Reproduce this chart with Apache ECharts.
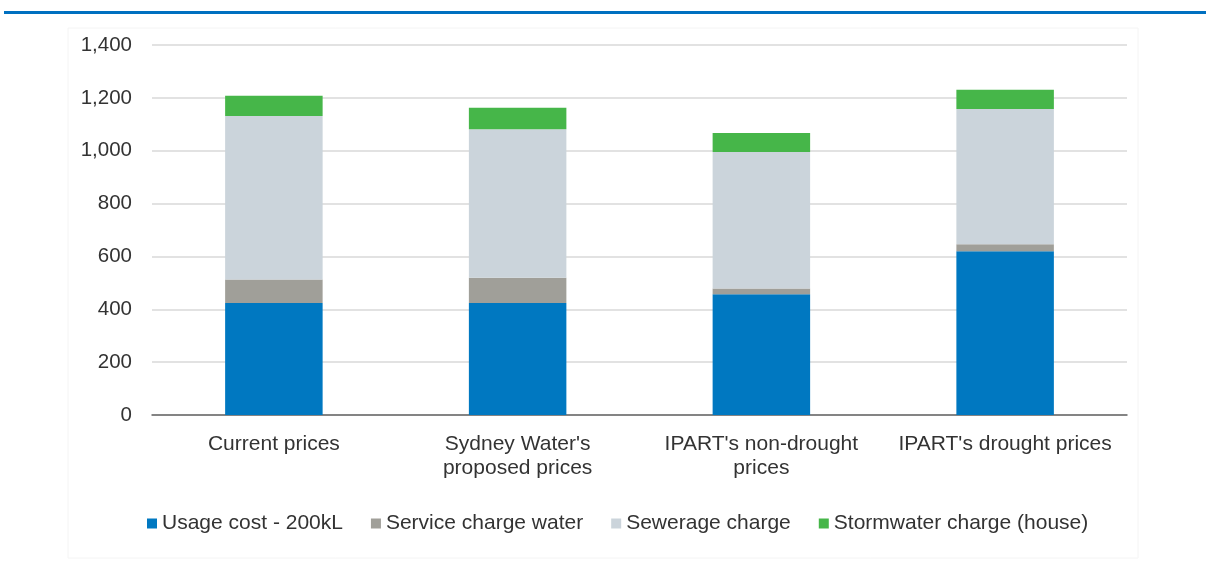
<!DOCTYPE html>
<html><head><meta charset="utf-8">
<script src="https://cdn.jsdelivr.net/npm/echarts@6/dist/echarts.min.js"></script>
<style>html,body{margin:0;padding:0;background:#fff}#c{width:1206px;height:566px}</style>
</head><body><div id="c"></div>
<script>
const categories = ["Current prices", "Sydney Water's\nproposed prices", "IPART's non-drought\nprices", "IPART's drought prices"];
const usageCost = [424, 424, 457, 620];
const serviceCharge = [89, 95, 22, 26];
const sewerageCharge = [618, 562, 516, 512];
const stormwaterCharge = [77, 82, 72, 73];
const seriesNames = ["Usage cost - 200kL", "Service charge water", "Sewerage charge", "Stormwater charge (house)"];
const colors = ["#0078C1", "#A09F99", "#CBD4DB", "#46B649"];
const datasets = [usageCost, serviceCharge, sewerageCharge, stormwaterCharge];

const FONT = 'Liberation Sans, Arial, sans-serif';
const chart = echarts.init(document.getElementById('c'));
chart.setOption({
  animation: false,
  textStyle: {fontFamily: FONT},
  graphic: [
    {type: 'rect', shape: {x: 4, y: 11, width: 1202, height: 3}, style: {fill: '#0070C0'}},
    {type: 'rect', shape: {x: 68, y: 28, width: 1070, height: 530}, style: {fill: 'none', stroke: '#f4f4f4', lineWidth: 1}}
  ],
  grid: {left: 152, right: 79, top: 45, bottom: 151},
  legend: {
    top: 508, left: 142,
    itemWidth: 10, itemHeight: 10, itemGap: 28,
    icon: 'rect',
    textStyle: {fontSize: 21, color: '#333', fontFamily: FONT},
    data: seriesNames
  },
  xAxis: {
    type: 'category', data: categories,
    axisLine: {lineStyle: {color: '#666', width: 1.5}},
    axisTick: {show: false},
    axisLabel: {fontSize: 21, color: '#333', margin: 17, lineHeight: 24, interval: 0, fontFamily: FONT}
  },
  yAxis: {
    type: 'value', min: 0, max: 1400, interval: 200,
    axisLine: {show: false}, axisTick: {show: false},
    splitLine: {lineStyle: {color: '#d9d9d9', width: 1.5}},
    axisLabel: {fontSize: 20.5, color: '#333', margin: 20, fontFamily: FONT,
      formatter: v => v.toLocaleString('en-US')}
  },
  series: datasets.map((d, i) => ({
    name: seriesNames[i], type: 'bar', stack: 'total', data: d,
    barWidth: '40%', itemStyle: {color: colors[i]}
  }))
});
</script></body></html>
